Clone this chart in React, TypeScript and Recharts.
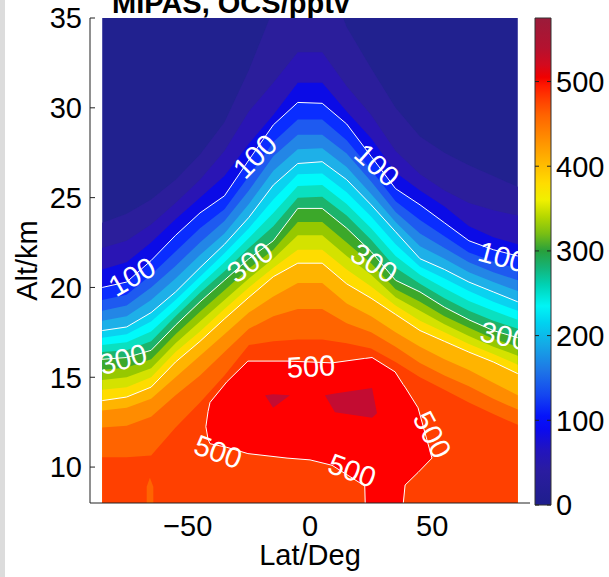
import React from 'react';
import { ComposedChart, Area, Line, XAxis, YAxis, Scatter, BarChart, Bar } from 'recharts';

const FONT = '"Liberation Sans", Arial, Helvetica, sans-serif';

// ---- data ----
const latitudes = [-85, -75, -65, -55, -45, -35, -25, -15, -5, 5, 15, 25, 35, 45, 55, 65, 75, 85];

// altitude (km) of each contour level at each latitude
const c025 = [23.6, 24.1, 24.9, 26.0, 27.4, 29.2, 32.1, 35.5, 38.0, 38.0, 34.5, 32.2, 30.0, 28.4, 27.5, 26.8, 26.2, 25.6];
const c050 = [22.2, 22.6, 23.5, 24.7, 26.0, 27.6, 29.8, 31.4, 33.1, 33.1, 31.2, 29.6, 27.6, 26.3, 25.4, 24.7, 24.3, 24.0];
const c075 = [21.0, 21.4, 22.5, 23.8, 25.0, 26.2, 28.0, 29.6, 31.4, 31.4, 29.8, 28.3, 26.4, 25.4, 24.5, 23.4, 22.8, 22.4];
const c100 = [20.0, 20.3, 21.5, 22.9, 24.15, 25.1, 27.1, 29.05, 30.3, 30.25, 29.1, 27.3, 25.5, 24.6, 23.6, 22.6, 22.1, 21.75];
const c125 = [19.3, 19.6, 20.7, 22.0, 23.3, 24.35, 26.2, 28.1, 29.35, 29.35, 28.2, 26.55, 24.8, 23.75, 22.85, 21.95, 21.45, 21.05];
const c150 = [18.7, 19.0, 20.0, 21.2, 22.5, 23.7, 25.4, 27.3, 28.5, 28.5, 27.45, 25.9, 24.2, 23.0, 22.2, 21.4, 20.85, 20.4];
const c175 = [18.15, 18.4, 19.3, 20.5, 21.8, 23.0, 24.65, 26.5, 27.7, 27.75, 26.7, 25.2, 23.65, 22.3, 21.6, 20.85, 20.3, 19.8];
const c200 = [17.6, 17.8, 18.6, 19.75, 21.1, 22.4, 23.9, 25.7, 26.9, 27.0, 26.0, 24.6, 23.1, 21.6, 21.0, 20.3, 19.75, 19.2];
const c225 = [17.2, 17.4, 18.1, 19.3, 20.6, 21.9, 23.3, 24.9, 26.3, 26.35, 25.3, 23.95, 22.4, 21.15, 20.5, 19.8, 19.2, 18.7];
const c250 = [16.8, 16.95, 17.55, 18.8, 20.15, 21.4, 22.75, 24.15, 25.65, 25.7, 24.65, 23.3, 21.75, 20.7, 19.95, 19.25, 18.7, 18.2];
const c275 = [16.4, 16.5, 17.0, 18.4, 19.7, 20.9, 22.2, 23.4, 25.0, 25.05, 24.0, 22.65, 21.1, 20.2, 19.4, 18.7, 18.15, 17.7];
const c300 = [16.0, 16.1, 16.5, 17.9, 19.2, 20.4, 21.6, 22.6, 24.4, 24.4, 23.3, 22.0, 20.4, 19.75, 18.9, 18.2, 17.6, 17.2];
const c325 = [15.4, 15.55, 16.0, 17.4, 18.65, 19.85, 21.05, 22.1, 23.65, 23.65, 22.5, 21.35, 19.9, 19.2, 18.4, 17.75, 17.15, 16.7];
const c350 = [14.85, 15.0, 15.5, 16.9, 18.1, 19.3, 20.5, 21.6, 22.9, 22.9, 21.75, 20.7, 19.45, 18.7, 17.95, 17.3, 16.7, 16.2];
const c375 = [14.3, 14.45, 15.0, 16.4, 17.55, 18.8, 20.0, 21.1, 22.1, 22.1, 21.0, 20.05, 19.0, 18.15, 17.5, 16.85, 16.3, 15.7];
const c400 = [13.7, 13.9, 14.45, 15.85, 17.0, 18.25, 19.45, 20.6, 21.35, 21.35, 20.2, 19.4, 18.5, 17.6, 17.0, 16.4, 15.85, 15.2];
const c425 = [13.15, 13.3, 13.8, 15.0, 16.2, 17.4, 18.6, 19.5, 20.25, 20.25, 19.1, 18.4, 17.5, 16.7, 16.0, 15.4, 14.7, 14.0];
const c450 = [12.2, 12.3, 12.8, 14.0, 15.1, 16.4, 17.7, 18.4, 18.8, 18.8, 18.0, 17.5, 16.7, 15.8, 15.1, 14.5, 13.8, 13.2];
const c475 = [10.55, 10.55, 10.65, 12.2, 13.6, 15.1, 16.8, 17.0, 17.1, 17.1, 16.9, 16.6, 15.85, 15.0, 14.3, 13.6, 12.95, 12.35];

const contourLevels = [25, 50, 75, 100, 125, 150, 175, 200, 225, 250, 275, 300, 325, 350, 375, 400, 425, 450, 475];
const contourAlts = [c025, c050, c075, c100, c125, c150, c175, c200, c225, c250, c275, c300, c325, c350, c375, c400, c425, c450, c475];
const whiteLineLevels = [100, 200, 300, 400];

// closed 500 pptv region (lower / upper altitude per latitude)
const bubbleLat = [-42.6, -41.7, -40.9, -34.0, -25.4, -9.4, 0, 9.0, 22.4, 22.6, 25.4, 34.8, 38.1, 38.9, 44.2, 49.9];
const bubbleLow = [12.25, 11.55, 11.3, 11.1, 10.75, 10.5, 10.4, 10.1, 8.95, 7.9, 7.9, 7.9, 7.9, 9.0, 9.7, 10.5];
const bubbleHigh = [12.25, 13.1, 13.6, 14.75, 15.9, 15.9, 15.85, 15.8, 16.05, 16.05, 16.1, 15.3, 14.6, 14.45, 13.3, 10.5];

// > 525 pptv patches
const patchALat = [-18.4, -15.1, -8.2];
const patchALow = [14.0, 13.3, 14.0];
const patchAHigh = [14.0, 14.05, 14.0];
const patchBLat = [6.1, 10.2, 25.4, 27.4];
const patchBLow = [14.0, 13.05, 12.75, 13.0];
const patchBHigh = [14.0, 14.1, 14.4, 13.0];

// small < 475 spike at the bottom
const spikeLat = [-66.8, -65.5, -64.1];
const spikeLow = [7.9, 7.9, 7.9];
const spikeHigh = [8.9, 9.4, 8.9];

// contour labels
const labelLat = [-72.8, -22.5, 27.4, 78.6, -76.5, -24.5, 26.2, 79.5, 0.4, -37.6, 17.2, 50.0];
const labelAlt = [20.6, 27.3, 26.8, 21.7, 16.0, 21.4, 21.35, 17.3, 15.6, 10.85, 9.8, 11.8];
const labelText = ['100', '100', '100', '100', '300', '300', '300', '300', '500', '500', '500', '500'];
const labelAngle = [-30, -45, 42, 15, -15, -35, 32, 12, -3, 20, 20, 62];

const xTicks = [-50, 0, 50];
const yTicks = [10, 15, 20, 25, 30, 35];
const cbTicks = [0, 100, 200, 300, 400, 500];

const LAT_DOMAIN: [number, number] = [-90, 90];
const ALT_DOMAIN: [number, number] = [8, 35];
const VMR_MAX = 575;

// ---- styles ----
const bandColor: Record<number, string> = {
  0: '#21218f', 25: '#2b1e9b', 50: '#2a15b4', 75: '#0b0be6', 100: '#0a2dff', 125: '#1e5af0',
  150: '#2386e6', 175: '#1eb0e8', 200: '#0ad2f0', 225: '#00fafa', 250: '#0ae0c0', 275: '#1cb46c',
  300: '#3ca82a', 325: '#96c800', 350: '#d4e200', 375: '#ffdc00', 400: '#ffb400', 425: '#ff8c00',
  450: '#ff6400', 475: '#ff4000', 500: '#ff0000', 525: '#c30c32',
};

const cbStops: [number, string][] = [
  [575, '#9b1b3a'], [540, '#b4122f'], [520, '#d20a1e'], [505, '#f00000'], [495, '#ff1a00'],
  [480, '#ff3c00'], [460, '#ff6400'], [440, '#ff8200'], [420, '#ffa000'], [400, '#ffbe00'],
  [380, '#ffdc00'], [360, '#f0f000'], [340, '#b4d700'], [320, '#78be14'], [300, '#28a03c'],
  [280, '#14b478'], [260, '#00d2b4'], [235, '#00f5f5'], [215, '#00d2f0'], [190, '#14aae6'],
  [160, '#1e78e6'], [130, '#1446f0'], [105, '#0514fa'], [90, '#0a0af0'], [65, '#2214be'],
  [40, '#2a1ca0'], [0, '#1e1e8c'],
];

// ---- tables built from the arrays ----
const rows = latitudes.map((lat, i) => {
  const r: Record<string, number> = { lat };
  contourLevels.forEach((lv, k) => {
    r['c' + lv] = contourAlts[k][i];
  });
  return r;
});
const rangeRows = (lats: number[], lo: number[], hi: number[]) =>
  lats.map((lat, i) => ({ lat, range: [lo[i], hi[i]] }));
const bubbleRows = rangeRows(bubbleLat, bubbleLow, bubbleHigh);
const patchARows = rangeRows(patchALat, patchALow, patchAHigh);
const patchBRows = rangeRows(patchBLat, patchBLow, patchBHigh);
const spikeRows = rangeRows(spikeLat, spikeLow, spikeHigh);
const labelRows = labelLat.map((lat, i) => ({ lat, alt: labelAlt[i], text: labelText[i], angle: labelAngle[i] }));

const fmtLat = (v: number) => (v < 0 ? '\u2212' + Math.abs(v) : String(v));

const YTick = (props: any) => {
  const { x, y, payload } = props;
  const axisX = x + 8;
  return (
    <g>
      <line x1={axisX} x2={axisX + 5} y1={y} y2={y} stroke="#222" strokeWidth={1} />
      <text x={x} y={y} dy="0.355em" textAnchor="end" fontSize={29} fontFamily={FONT} fill="#000">
        {payload.value}
      </text>
    </g>
  );
};

const CbTick = (props: any) => {
  const { x, y, payload } = props;
  const axisX = x - 5;
  return (
    <g>
      <line x1={axisX - 16} x2={axisX - 12} y1={y} y2={y} stroke="#222" strokeWidth={1} />
      <line x1={axisX - 4} x2={axisX} y1={y} y2={y} stroke="#222" strokeWidth={1} />
      <text x={x} y={y} dy="0.355em" textAnchor="start" fontSize={29} fontFamily={FONT} fill="#000">
        {payload.value}
      </text>
    </g>
  );
};

const YTitle = (props: any) => {
  const vb = props.viewBox || {};
  const cx = vb.x + 7;
  const cy = vb.y + vb.height / 2;
  return (
    <text x={cx} y={cy} transform={`rotate(-90, ${cx}, ${cy})`} textAnchor="middle" fontSize={29} fontFamily={FONT} fill="#000">
      Alt/km
    </text>
  );
};

const XTitle = (props: any) => {
  const vb = props.viewBox || {};
  const cx = vb.x + vb.width / 2;
  return (
    <text x={cx} y={vb.y + 61.5} textAnchor="middle" fontSize={29} fontFamily={FONT} fill="#000">
      Lat/Deg
    </text>
  );
};

const ContourLabel = (props: any) => {
  const { cx, cy, payload } = props;
  if (cx == null || cy == null) return null;
  return (
    <text
      x={cx}
      y={cy}
      transform={`rotate(${payload.angle}, ${cx}, ${cy})`}
      textAnchor="middle"
      dominantBaseline="central"
      fontSize={29}
      fontFamily={FONT}
      fill="#fff"
    >
      {payload.text}
    </text>
  );
};

export default function App() {
  return (
    <div style={{ position: 'absolute', left: 0, top: 0, width: 609, height: 577, background: '#fff', overflow: 'hidden' }}>
      <div style={{ position: 'absolute', left: 0, top: 0, width: 5, height: 577, background: '#dcdcdc' }} />
      <div style={{ position: 'absolute', left: 0, top: 0 }}>
        <ComposedChart width={609} height={577} data={rows} margin={{ top: 18, right: 79, bottom: 44, left: 30 }}>
          <XAxis
            dataKey="lat"
            type="number"
            domain={LAT_DOMAIN}
            ticks={xTicks}
            allowDataOverflow
            height={30}
            tickLine={false}
            tickSize={0}
            tickMargin={12}
            tickFormatter={fmtLat}
            axisLine={{ stroke: '#222' }}
            tick={{ fontSize: 29, fill: '#000', fontFamily: FONT }}
            label={(p: any) => <XTitle {...p} />}
          />
          <YAxis
            type="number"
            domain={ALT_DOMAIN}
            ticks={yTicks}
            allowDataOverflow
            width={60}
            tickLine={false}
            tickSize={0}
            tickMargin={8}
            axisLine={{ stroke: '#222' }}
            tick={<YTick />}
            label={(p: any) => <YTitle {...p} />}
          />
          <Area
            dataKey={() => ALT_DOMAIN[1]}
            type="linear"
            fill={bandColor[0]}
            fillOpacity={1}
            stroke="none"
            baseValue="dataMin"
            isAnimationActive={false}
            dot={false}
            activeDot={false}
          />
          {contourLevels.map((lv) => (
            <Area
              key={lv}
              dataKey={'c' + lv}
              type="linear"
              fill={bandColor[lv]}
              fillOpacity={1}
              stroke="none"
              baseValue="dataMin"
              isAnimationActive={false}
              dot={false}
              activeDot={false}
            />
          ))}
          <Area
            data={spikeRows}
            dataKey="range"
            type="linear"
            fill={bandColor[450]}
            fillOpacity={1}
            stroke="none"
            isAnimationActive={false}
            dot={false}
            activeDot={false}
          />
          <Area
            data={bubbleRows}
            dataKey="range"
            type="linear"
            fill={bandColor[500]}
            fillOpacity={1}
            stroke="#ffffff"
            strokeWidth={1}
            isAnimationActive={false}
            dot={false}
            activeDot={false}
          />
          <Area
            data={patchARows}
            dataKey="range"
            type="linear"
            fill={bandColor[525]}
            fillOpacity={1}
            stroke="none"
            isAnimationActive={false}
            dot={false}
            activeDot={false}
          />
          <Area
            data={patchBRows}
            dataKey="range"
            type="linear"
            fill={bandColor[525]}
            fillOpacity={1}
            stroke="none"
            isAnimationActive={false}
            dot={false}
            activeDot={false}
          />
          {whiteLineLevels.map((lv) => (
            <Line
              key={'l' + lv}
              dataKey={'c' + lv}
              type="linear"
              stroke="#ffffff"
              strokeWidth={1}
              dot={false}
              activeDot={false}
              isAnimationActive={false}
            />
          ))}
          <Scatter data={labelRows} dataKey="alt" shape={(p: any) => <ContourLabel {...p} />} isAnimationActive={false} />
          <text x={112} y={13} fontSize={29} fontWeight="bold" fontFamily={FONT} fill="#000">
            MIPAS, OCS/pptv
          </text>
        </ComposedChart>
      </div>
      <div style={{ position: 'absolute', left: 500, top: 0 }}>
        <BarChart width={109} height={577} data={[{ name: 'cb', v: VMR_MAX }]} margin={{ top: 18, right: 8, bottom: 72, left: 35 }} barCategoryGap={0}>
          <defs>
            <linearGradient id="cbGrad" x1="0" y1="0" x2="0" y2="1">
              {cbStops.map(([v, c]) => (
                <stop key={v} offset={1 - v / VMR_MAX} stopColor={c} />
              ))}
            </linearGradient>
          </defs>
          <XAxis dataKey="name" hide />
          <YAxis
            orientation="right"
            type="number"
            domain={[0, VMR_MAX]}
            ticks={cbTicks}
            width={50}
            tickLine={false}
            tickSize={0}
            tickMargin={5}
            axisLine={false}
            tick={<CbTick />}
          />
          <Bar dataKey="v" fill="url(#cbGrad)" stroke="#333" strokeWidth={1} isAnimationActive={false} />
        </BarChart>
      </div>
    </div>
  );
}
